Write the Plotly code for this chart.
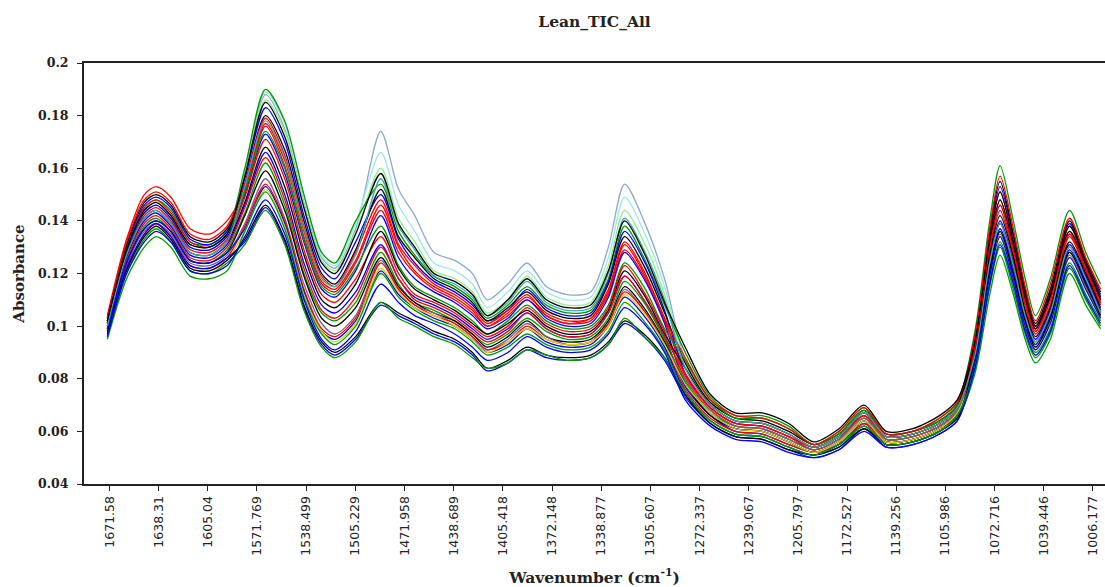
import plotly.graph_objects as go

# Wavenumber sampling points (cm-1) shared by all spectra
wavenumber = [1673, 1660, 1648, 1640, 1630, 1617, 1604, 1592,
              1580, 1566, 1553, 1540, 1528, 1519, 1505,
              1488, 1476, 1465, 1452, 1438, 1426, 1416, 1402,
              1389, 1376, 1362, 1346, 1334, 1323, 1310, 1296,
              1282, 1265, 1248, 1230, 1212, 1195, 1178, 1161, 1146, 1128, 1110, 1098,
              1086, 1076, 1069, 1060, 1052, 1045, 1035, 1022, 1011, 1001]

# Tick positions / labels of the wavenumber axis
tick_wn = [1671.58, 1638.31, 1605.04, 1571.769, 1538.499, 1505.229, 1471.958,
           1438.689, 1405.418, 1372.148, 1338.877, 1305.607, 1272.337, 1239.067,
           1205.797, 1172.527, 1139.256, 1105.986, 1072.716, 1039.446, 1006.177]
tick_labels = ["1671.58", "1638.31", "1605.04", "1571.769", "1538.499", "1505.229",
               "1471.958", "1438.689", "1405.418", "1372.148", "1338.877", "1305.607",
               "1272.337", "1239.067", "1205.797", "1172.527", "1139.256", "1105.986",
               "1072.716", "1039.446", "1006.177"]

y_ticks = [0.04, 0.06, 0.08, 0.10, 0.12, 0.14, 0.16, 0.18, 0.20]
y_tick_labels = ["0.04", "0.06", "0.08", "0.1", "0.12", "0.14", "0.16", "0.18", "0.2"]

# Absorbance spectra of the lean TIC samples
s01 = [.104, .133, .150, .153, .149, .137, .135, .140,
       .152, .176, .161, .134, .116, .113, .124,
       .144, .128, .120, .114, .110, .105, .100, .104,
       .110, .104, .101, .102, .112, .129, .119, .102,
       .084, .070, .064, .063, .059, .054, .058, .067, .058, .059, .063, .069,
       .093, .131, .148, .130, .110, .099, .111, .136, .123, .110]
s02 = [.101, .128, .143, .146, .141, .130, .129, .134,
       .159, .188, .175, .147, .126, .122, .137,
       .174, .152, .142, .128, .125, .120, .110, .116,
       .124, .115, .112, .113, .130, .154, .140, .118,
       .087, .072, .065, .065, .061, .055, .059, .068, .059, .060, .064, .070,
       .090, .125, .140, .124, .105, .095, .106, .131, .119, .106]
s03 = [.101, .127, .142, .145, .140, .129, .128, .133,
       .159, .189, .177, .149, .127, .123, .139,
       .166, .146, .136, .124, .121, .116, .107, .113,
       .121, .113, .110, .111, .126, .149, .136, .115,
       .086, .071, .065, .064, .060, .055, .059, .068, .059, .060, .064, .070,
       .088, .122, .137, .122, .103, .093, .104, .129, .117, .105]
s04 = [.100, .126, .140, .143, .138, .127, .126, .131,
       .158, .186, .174, .146, .125, .121, .136,
       .160, .141, .132, .121, .118, .113, .105, .110,
       .119, .111, .108, .109, .123, .144, .132, .112,
       .085, .070, .064, .063, .059, .054, .059, .067, .058, .059, .064, .070,
       .092, .128, .144, .127, .108, .097, .108, .134, .121, .108]
s05 = [.102, .130, .145, .148, .144, .132, .131, .136,
       .160, .190, .178, .150, .128, .124, .140,
       .154, .136, .127, .119, .115, .110, .103, .108,
       .115, .108, .105, .106, .118, .138, .126, .108,
       .090, .073, .066, .066, .062, .055, .060, .069, .059, .060, .065, .071,
       .098, .140, .161, .140, .118, .104, .118, .144, .128, .116]
s06 = [.102, .130, .146, .149, .145, .133, .131, .136,
       .156, .183, .170, .142, .122, .118, .132,
       .150, .133, .124, .117, .113, .108, .102, .106,
       .114, .107, .104, .105, .117, .136, .125, .106,
       .082, .069, .063, .062, .058, .054, .058, .066, .058, .059, .063, .069,
       .095, .134, .153, .134, .113, .100, .113, .139, .124, .112]
s07 = [.103, .131, .147, .150, .146, .134, .132, .137,
       .154, .180, .167, .140, .120, .116, .129,
       .152, .134, .126, .118, .114, .109, .102, .107,
       .113, .106, .103, .104, .116, .134, .123, .105,
       .086, .071, .065, .064, .060, .055, .059, .068, .059, .060, .064, .070,
       .096, .136, .155, .135, .114, .101, .114, .140, .125, .113]
s08 = [.102, .129, .145, .148, .143, .132, .130, .135,
       .152, .177, .163, .136, .117, .114, .125,
       .146, .130, .121, .115, .111, .106, .100, .105,
       .111, .105, .102, .103, .113, .131, .120, .103,
       .081, .069, .063, .062, .058, .053, .057, .066, .057, .058, .062, .068,
       .094, .133, .151, .132, .112, .100, .112, .138, .124, .111]
s09 = [.101, .128, .143, .146, .141, .130, .129, .134,
       .150, .173, .158, .132, .114, .111, .121,
       .142, .126, .118, .113, .109, .104, .099, .103,
       .110, .103, .100, .101, .111, .128, .118, .101,
       .078, .067, .061, .060, .056, .052, .056, .064, .056, .057, .061, .067,
       .092, .130, .146, .129, .109, .098, .110, .135, .122, .109]
s10 = [.102, .129, .144, .147, .142, .131, .130, .135,
       .151, .174, .160, .133, .115, .112, .122,
       .138, .123, .115, .111, .107, .102, .097, .102,
       .108, .102, .099, .100, .108, .124, .115, .099,
       .087, .072, .065, .065, .061, .055, .059, .068, .059, .060, .064, .070,
       .085, .117, .132, .117, .099, .090, .099, .124, .112, .102]
s11 = [.101, .127, .142, .145, .140, .129, .128, .133,
       .149, .171, .156, .129, .112, .109, .118,
       .134, .120, .112, .109, .105, .100, .096, .100,
       .107, .101, .098, .099, .107, .123, .113, .098,
       .080, .068, .062, .061, .057, .053, .057, .065, .057, .058, .062, .068,
       .092, .128, .144, .127, .108, .097, .108, .134, .121, .108]
s12 = [.100, .127, .141, .144, .139, .128, .127, .132,
       .147, .168, .153, .127, .110, .107, .116,
       .136, .122, .114, .110, .106, .101, .097, .101,
       .106, .100, .097, .098, .106, .121, .112, .097,
       .084, .070, .064, .063, .059, .054, .058, .067, .058, .059, .063, .069,
       .093, .131, .148, .130, .110, .099, .111, .136, .123, .110]
s13 = [.100, .126, .140, .143, .138, .127, .126, .131,
       .146, .166, .150, .124, .108, .105, .113,
       .131, .118, .111, .108, .104, .099, .095, .099,
       .105, .099, .096, .097, .105, .119, .110, .096,
       .077, .066, .060, .059, .055, .052, .055, .063, .056, .057, .061, .066,
       .090, .125, .140, .124, .105, .095, .106, .131, .119, .106]
s14 = [.099, .125, .139, .142, .137, .126, .125, .130,
       .145, .164, .148, .122, .106, .103, .111,
       .130, .118, .110, .107, .103, .098, .094, .098,
       .105, .099, .096, .097, .105, .119, .110, .096,
       .082, .069, .063, .062, .058, .054, .058, .066, .058, .059, .063, .069,
       .089, .124, .139, .123, .104, .094, .105, .130, .118, .105]
s15 = [.099, .124, .138, .141, .136, .125, .124, .129,
       .143, .162, .146, .120, .105, .102, .109,
       .128, .116, .109, .106, .102, .097, .093, .097,
       .103, .098, .095, .096, .103, .117, .109, .095,
       .079, .067, .062, .061, .057, .053, .057, .065, .057, .058, .062, .068,
       .088, .121, .136, .120, .102, .092, .103, .128, .116, .104]
s16 = [.099, .124, .137, .140, .136, .125, .124, .128,
       .142, .159, .144, .119, .103, .100, .107,
       .126, .115, .109, .105, .102, .097, .092, .096,
       .102, .096, .094, .095, .102, .115, .107, .094,
       .078, .066, .061, .060, .056, .052, .056, .064, .056, .057, .061, .067,
       .091, .127, .142, .126, .106, .096, .107, .132, .120, .107]
s17 = [.098, .123, .136, .139, .135, .124, .123, .127,
       .139, .156, .141, .116, .101, .097, .104,
       .125, .114, .108, .105, .101, .096, .091, .095,
       .101, .096, .093, .094, .101, .114, .106, .093,
       .080, .068, .062, .061, .057, .053, .057, .065, .057, .058, .062, .068,
       .087, .120, .135, .119, .101, .091, .102, .127, .115, .103]
s18 = [.098, .122, .135, .139, .134, .123, .122, .126,
       .138, .154, .140, .114, .099, .096, .103,
       .124, .114, .108, .104, .101, .096, .091, .094,
       .100, .095, .093, .094, .101, .113, .106, .093,
       .076, .065, .060, .059, .055, .052, .055, .063, .056, .057, .061, .066,
       .092, .130, .146, .129, .109, .098, .110, .135, .122, .109]
s19 = [.099, .124, .137, .140, .136, .125, .124, .128,
       .137, .153, .139, .113, .098, .095, .102,
       .121, .112, .107, .103, .100, .095, .090, .093,
       .099, .094, .092, .093, .100, .111, .104, .092,
       .075, .064, .059, .058, .054, .051, .055, .062, .055, .056, .060, .066,
       .088, .122, .137, .122, .103, .093, .104, .129, .117, .105]
s20 = [.097, .121, .134, .138, .133, .122, .121, .125,
       .136, .152, .138, .112, .098, .094, .101,
       .122, .113, .107, .104, .100, .095, .090, .094,
       .099, .095, .093, .094, .100, .112, .105, .093,
       .078, .067, .061, .060, .056, .052, .056, .064, .056, .057, .061, .067,
       .086, .119, .134, .118, .100, .091, .101, .126, .114, .103]
s21 = [.095, .118, .130, .134, .130, .119, .118, .121,
       .136, .151, .137, .111, .097, .093, .100,
       .120, .111, .106, .102, .099, .094, .089, .092,
       .097, .093, .091, .092, .098, .109, .102, .091,
       .074, .064, .059, .058, .054, .051, .054, .062, .055, .056, .060, .065,
       .082, .112, .127, .112, .095, .086, .095, .120, .108, .099]
s22 = [.098, .122, .135, .139, .134, .123, .122, .126,
       .132, .145, .132, .107, .093, .089, .095,
       .108, .104, .101, .097, .094, .089, .083, .086,
       .091, .088, .087, .088, .093, .101, .096, .087,
       .073, .063, .058, .057, .053, .050, .053, .061, .054, .055, .059, .064,
       .086, .119, .134, .118, .100, .091, .101, .126, .114, .103]
s23 = [.097, .121, .134, .138, .133, .122, .121, .125,
       .133, .146, .133, .108, .094, .090, .096,
       .109, .105, .102, .098, .095, .090, .084, .087,
       .092, .089, .088, .089, .094, .102, .097, .088,
       .074, .063, .058, .057, .053, .051, .054, .061, .055, .056, .060, .065,
       .088, .121, .136, .120, .102, .092, .103, .128, .116, .104]
s24 = [.096, .120, .133, .137, .132, .121, .120, .124,
       .131, .144, .131, .106, .092, .088, .094,
       .109, .103, .100, .096, .093, .088, .084, .086,
       .091, .089, .087, .088, .093, .103, .096, .088,
       .075, .064, .059, .058, .054, .051, .055, .062, .055, .056, .060, .066,
       .084, .115, .130, .114, .097, .088, .097, .122, .110, .100]
s25 = [.103, .132, .148, .151, .147, .135, .133, .138,
       .154, .179, .165, .138, .119, .115, .128,
       .148, .131, .123, .116, .112, .107, .101, .106,
       .112, .104, .101, .103, .114, .132, .121, .103,
       .088, .072, .066, .065, .061, .055, .060, .069, .059, .060, .065, .071,
       .096, .137, .157, .137, .115, .102, .116, .141, .126, .114]
s26 = [.100, .127, .141, .144, .139, .128, .127, .132,
       .153, .178, .164, .137, .118, .115, .127,
       .156, .138, .129, .119, .116, .111, .104, .109,
       .117, .109, .106, .107, .120, .141, .129, .110,
       .084, .070, .064, .063, .059, .054, .058, .067, .058, .059, .063, .069,
       .089, .124, .139, .123, .104, .094, .105, .130, .118, .105]
s27 = [.096, .120, .132, .136, .132, .121, .120, .123,
       .134, .148, .135, .110, .095, .091, .098,
       .116, .109, .104, .101, .097, .092, .087, .090,
       .096, .092, .090, .091, .097, .107, .101, .090,
       .072, .062, .057, .056, .052, .050, .053, .060, .054, .055, .059, .064,
       .084, .116, .131, .116, .098, .089, .098, .123, .111, .101]
s28 = [.102, .129, .144, .147, .142, .131, .130, .135,
       .157, .185, .172, .145, .124, .120, .135,
       .158, .139, .130, .120, .117, .112, .104, .110,
       .118, .110, .107, .108, .121, .140, .128, .109,
       .092, .074, .067, .067, .063, .056, .061, .070, .060, .061, .066, .072,
       .094, .133, .151, .132, .112, .100, .112, .138, .124, .111]

spectra = [s01, s02, s03, s04, s05, s06, s07, s08, s09, s10, s11, s12, s13, s14,
           s15, s16, s17, s18, s19, s20, s21, s22, s23, s24, s25, s26, s27, s28]

RED, GREEN, BLUE, BLACK = "#FF0000", "#009A00", "#0000FF", "#000000"
colors = [RED, "#8EA9C9", "#A0E6E6", "#90EE90", GREEN, BLUE, BLACK, RED, BLUE, GREEN,
          RED, BLACK, BLUE, RED, GREEN, BLACK, "#7F5F7F", RED, BLUE, "#D8D800",
          GREEN, BLUE, BLACK, GREEN, RED, "#40A8A8", BLUE, BLACK]

fig = go.Figure()
for i, (spec, col) in enumerate(zip(spectra, colors)):
    fig.add_trace(go.Scatter(
        x=wavenumber, y=spec, mode="lines", name=f"Sample {i + 1}",
        line=dict(color=col, width=1.3, shape="spline", smoothing=0.8),
    ))

AXIS_COLOR = "#222222"
SERIF = "DejaVu Serif"

fig.update_layout(
    width=1105, height=587,
    margin=dict(l=84, r=0, t=63, b=103),
    paper_bgcolor="white", plot_bgcolor="white",
    showlegend=False,
    title=dict(text="Lean_TIC_All", x=0.5, xref="paper", xanchor="center",
               y=1 - 22 / 587, yref="container", yanchor="middle",
               font=dict(family=SERIF, size=15.5, color=AXIS_COLOR, weight="bold")),
    xaxis=dict(
        range=[1688.8, 998], tickmode="array", tickvals=tick_wn, ticktext=tick_labels,
        tickangle=-90, ticks="outside", ticklen=5, tickwidth=1, tickcolor=AXIS_COLOR,
        showline=True, linecolor=AXIS_COLOR, linewidth=2, mirror=True,
        showgrid=False, zeroline=False, automargin=False,
        tickfont=dict(family="DejaVu Sans", size=12.5, color=AXIS_COLOR),
        title=dict(text="Wavenumber (cm<sup>-1</sup>)", standoff=17,
                   font=dict(family=SERIF, size=15.5, color=AXIS_COLOR, weight="bold")),
    ),
    yaxis=dict(
        range=[0.04, 0.2], tickmode="array", tickvals=y_ticks, ticktext=y_tick_labels,
        ticks="outside", ticklen=5, tickwidth=1, tickcolor=AXIS_COLOR,
        ticklabelstandoff=6,
        showline=True, linecolor=AXIS_COLOR, linewidth=2,
        showgrid=False, zeroline=False, automargin=False,
        tickfont=dict(family=SERIF, size=12.5, color=AXIS_COLOR, weight="bold"),
        title=dict(text="Absorbance", standoff=10,
                   font=dict(family=SERIF, size=15, color=AXIS_COLOR, weight="bold")),
    ),
)

fig.write_html("out.html")
